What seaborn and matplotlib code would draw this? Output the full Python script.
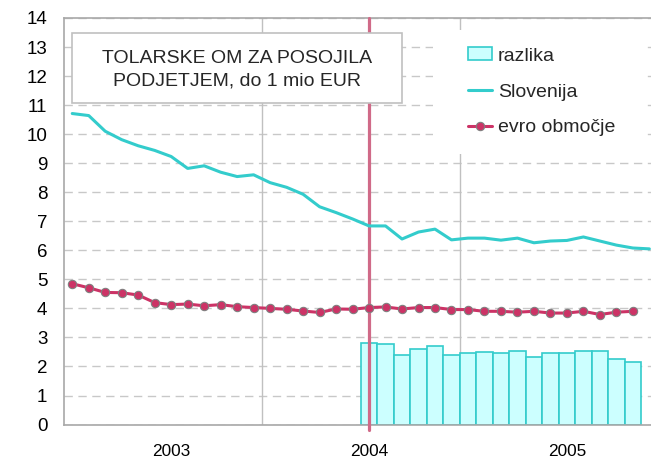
import matplotlib
matplotlib.use("Agg")
import matplotlib.pyplot as plt
from matplotlib.lines import Line2D
from matplotlib.patches import Patch, Rectangle
import numpy as np
import pandas as pd
import seaborn as sns

# ── Podatki (odčitano s slike), mesečno od začetka 2003 ──────────────────────
slovenija = [10.71, 10.64, 10.10, 9.81, 9.60, 9.44, 9.23, 8.82, 8.91, 8.69,
             8.54, 8.60, 8.33, 8.17, 7.93, 7.50, 7.30, 7.08, 6.84, 6.84,
             6.39, 6.63, 6.73, 6.36, 6.42, 6.42, 6.35, 6.42, 6.26, 6.32,
             6.34, 6.46, 6.32, 6.18, 6.08, 6.05]
evro_obmocje = [4.85, 4.71, 4.55, 4.54, 4.46, 4.20, 4.13, 4.15, 4.09, 4.13,
                4.06, 4.03, 4.00, 3.97, 3.91, 3.86, 3.98, 3.97, 4.03, 4.05,
                3.98, 4.03, 4.03, 3.96, 3.96, 3.90, 3.90, 3.87, 3.90, 3.84,
                3.84, 3.90, 3.79, 3.87, 3.90]
razlika = [2.82, 2.78, 2.39, 2.59, 2.70, 2.39, 2.46, 2.50, 2.46, 2.52,
           2.33, 2.46, 2.48, 2.52, 2.52, 2.27, 2.17]
prvi_mesec_razlike = 18
leta = ["2003", "2004", "2005"]
sredina_leta = [6, 18, 30]
meje_let = [11.5, 23.5]
oznaka_mesec = 18
naslov = "TOLARSKE OM ZA POSOJILA\nPODJETJEM, do 1 mio EUR"

TURKIZNA = "#33CCCC"
SVETLA = "#CCFFFF"
VINSKA = "#CC3366"
ROZA = "#D06A88"
SIVA = "#C0C0C0"

df_slo = pd.DataFrame({"mesec": np.arange(len(slovenija)), "om": slovenija})
df_evro = pd.DataFrame({"mesec": np.arange(len(evro_obmocje)), "om": evro_obmocje})
df_raz = pd.DataFrame({"mesec": np.arange(len(razlika)) + prvi_mesec_razlike,
                       "om": razlika})

sns.set_theme(style="white")
plt.rcParams["font.family"] = ["Liberation Sans", "DejaVu Sans"]

fig, ax = plt.subplots(figsize=(6.51, 4.61), dpi=100)
fig.subplots_adjust(left=0.0983, right=1.0, bottom=0.079, top=0.961)

# ── Stolpci in črte ──────────────────────────────────────────────────────────
sns.barplot(data=df_raz, x="mesec", y="om", native_scale=True, width=1.0,
            color=SVETLA, edgecolor=TURKIZNA, linewidth=1.2, saturation=1,
            ax=ax, zorder=2)
ax.plot([oznaka_mesec, oznaka_mesec], [-0.2, 14], color=ROZA, lw=2.3,
        clip_on=False, zorder=3)
sns.lineplot(data=df_slo, x="mesec", y="om", color=TURKIZNA, lw=2.2,
             ax=ax, zorder=4)
sns.lineplot(data=df_evro, x="mesec", y="om", color=VINSKA, lw=2.2,
             marker="o", markersize=6, markerfacecolor=VINSKA,
             markeredgecolor="#808080", markeredgewidth=0.8, ax=ax, zorder=5)

# ── Osi ──────────────────────────────────────────────────────────────────────
ax.set_xlim(-0.5, 35.1)
ax.set_ylim(0, 14)
ax.set_yticks(range(15))
ax.set_xticks(sredina_leta)
ax.set_xticklabels(leta)
ax.set_xlabel("")
ax.set_ylabel("")
ax.tick_params(axis="y", length=0, pad=12, labelsize=13.5, colors="black")
ax.tick_params(axis="x", length=0, pad=14, labelsize=12.4, colors="black")

ax.set_axisbelow(True)
ax.yaxis.grid(True, color="#C8C8C8", lw=1.0, linestyle=(0, (6, 4)))
ax.xaxis.grid(False)
for m in meje_let:
    ax.axvline(m, color=SIVA, lw=1.0, zorder=1)

for side in ["left", "bottom", "top"]:
    ax.spines[side].set_color("#A8A8A8")
    ax.spines[side].set_linewidth(1.2)
ax.spines["right"].set_visible(False)

# bela podlaga legende, ki prekrije mrežo
ax.add_patch(Rectangle((433 / 651, 1 - 143 / 461), 212 / 651, 111 / 461,
                       transform=fig.transFigure, facecolor="white",
                       edgecolor="none", zorder=1.5))

# ── Naslov v okvirju ─────────────────────────────────────────────────────────
okvir = Rectangle((72 / 651, 1 - 103 / 461), 330 / 651, 70 / 461,
                  transform=fig.transFigure, facecolor="white",
                  edgecolor=SIVA, lw=1.2, zorder=6)
fig.patches.append(okvir)
fig.text(237 / 651, 1 - 70 / 461, naslov, ha="center", va="center",
         fontsize=14, linespacing=1.42, zorder=7)

# ── Legenda ──────────────────────────────────────────────────────────────────
rocaji = [
    Patch(facecolor=SVETLA, edgecolor=TURKIZNA, lw=1.2, label="razlika"),
    Line2D([], [], color=TURKIZNA, lw=2.2, label="Slovenija"),
    Line2D([], [], color=VINSKA, lw=2.2, marker="o", markersize=6,
           markerfacecolor=VINSKA, markeredgecolor="#808080",
           markeredgewidth=0.8, label="evro območje"),
]
leg = ax.legend(handles=rocaji, loc="upper left",
                bbox_to_anchor=(450 / 651, 1 - 30 / 461),
                bbox_transform=fig.transFigure, borderaxespad=0,
                fontsize=14, frameon=True, fancybox=False, framealpha=1,
                edgecolor="none", facecolor="white", handlelength=1.25,
                handleheight=0.65, handletextpad=0.3, labelspacing=0.95,
                borderpad=0.9)
leg.set_zorder(6)

fig.savefig("out.png", dpi=100)
